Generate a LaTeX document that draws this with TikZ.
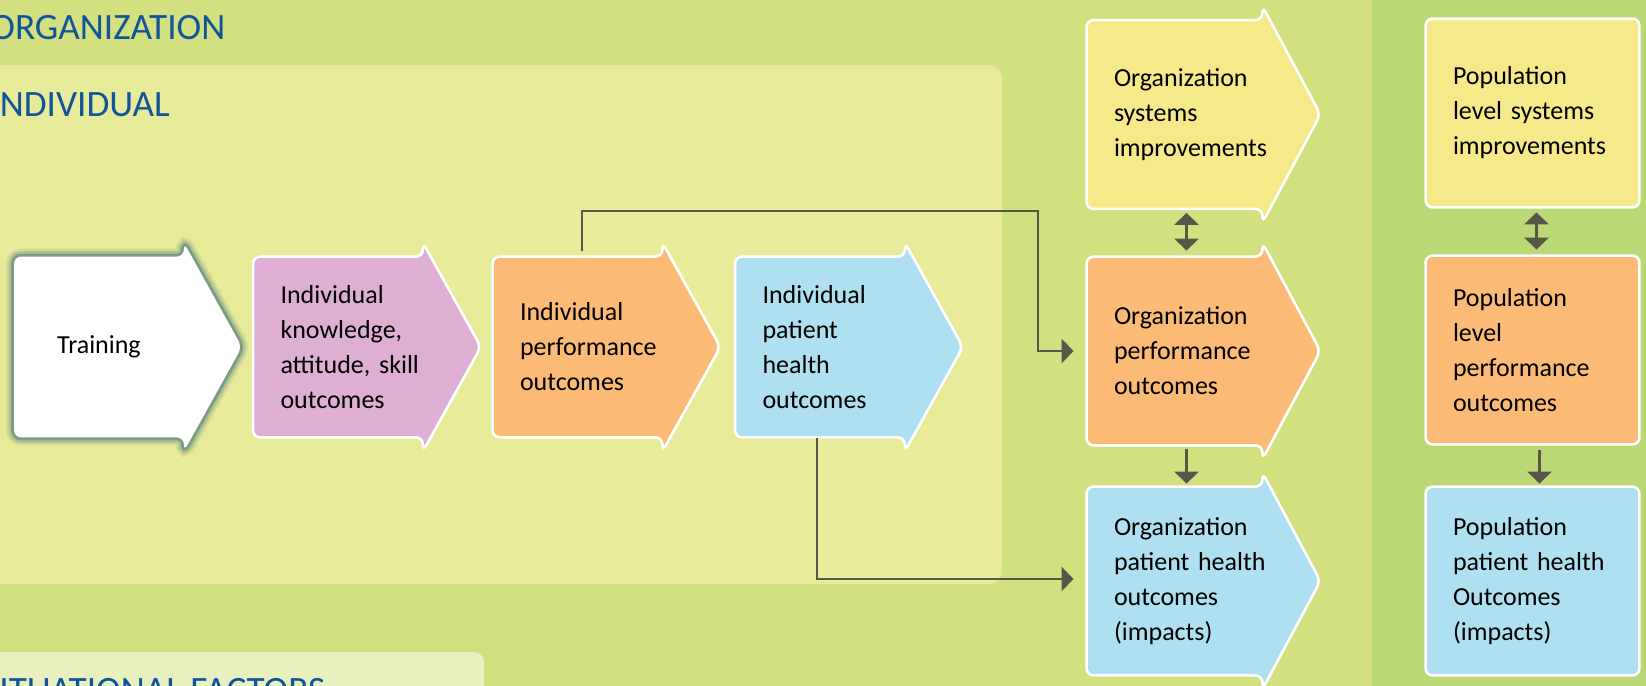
\documentclass[tikz,border=0pt]{standalone}
\usepackage{fontspec}
\setmainfont{Carlito}
\usepackage{tikz}
\usetikzlibrary{arrows.meta,calc,backgrounds}
\hyphenpenalty=10000
\exhyphenpenalty=10000

\definecolor{orgband}{HTML}{D3E080}
\definecolor{popband}{HTML}{BBD876}
\definecolor{indpanel}{HTML}{E8EC9A}
\definecolor{sitpanel}{HTML}{E8F0C0}
\definecolor{titleblue}{HTML}{10559A}
\definecolor{linkgray}{HTML}{575748}
\definecolor{sysyellow}{HTML}{F5E98A}
\definecolor{perforange}{HTML}{FBBA76}
\definecolor{skillpink}{HTML}{DFAFD3}
\definecolor{healthblue}{HTML}{AEE0F1}
\definecolor{glowteal}{HTML}{3E6E76}

\tikzset{
  bandlabel/.style={anchor=base west, inner sep=0, text=titleblue, font=\fontsize{18.6}{22}\selectfont},
  outcome/.style={rectangle, inner sep=0, align=left, text=black, font=\fontsize{13}{17.5}\selectfont},
  rowbox/.style={outcome, minimum width=84.5pt, minimum height=90pt, text width=57.5pt},
  orgbox/.style={outcome, minimum width=87.5pt, minimum height=94pt, text width=60.5pt},
  popbox/.style={outcome, minimum width=106.5pt, minimum height=94pt, text width=79.5pt},
  boxedge/.style={draw=white, line width=1.3pt, rounded corners=3.5pt},
  connector/.style={draw=linkgray, line width=1.4pt},
}

% outline of a box with an arrow head on its right side
\newcommand{\arrowoutline}[1]{(#1.north west) -- (#1.north east) -- ($(#1.north east)+(0,-14)$)
  -- ($(#1.east)+(58,0)$) -- ($(#1.south east)+(0,14)$) -- (#1.south east) -- (#1.south west) -- cycle}

\begin{document}
\begin{tikzpicture}[x=0.5pt,y=-0.5pt,>={Triangle[length=6pt,width=12pt]}]
\useasboundingbox (0,0) rectangle (1646,686);

% bands and panels
\begin{scope}[on background layer]
\fill[orgband] (0,0) rectangle (1372,686);
\fill[popband] (1372,0) rectangle (1646,686);
\fill[indpanel, rounded corners=6.5pt] (-30,65) rectangle (1002,584);
\fill[sitpanel, rounded corners=5pt] (-30,652) rectangle (484,740);
\end{scope}

\node[bandlabel] (orglabel) at (-10,39) {ORGANIZATION};
\node[bandlabel] (indlabel) at (-10,116) {INDIVIDUAL};
\node[bandlabel] (sitlabel) at (-18,702) {SITUATIONAL FACTORS};

% individual row
\node[rowbox, align=center] (training) at (99,347) {Training};
\node[rowbox] (knowledge) at (338,347) {Individual\\knowledge,\\attitude,~skill\\outcomes};
\node[rowbox] (indperf) at (577.5,347) {Individual\\performance\\outcomes};
\node[rowbox] (indpat) at (820,347) {Individual\\patient\\health\\outcomes};

% organization column
\node[orgbox] (orgsys) at (1174.5,114.5) {Organization\\systems\\improvements};
\node[orgbox] (orgperf) at (1174.5,351) {Organization\\performance\\outcomes};
\node[orgbox] (orgpat) at (1174.5,581) {Organization\\patient~health\\outcomes\\(impacts)};

% population column
\node[popbox] (popsys) at (1532.5,113) {Population\\level systems\\improvements};
\node[popbox] (popperf) at (1532.5,350) {Population\\level\\performance\\outcomes};
\node[popbox] (poppat) at (1532.5,581) {Population\\patient health\\Outcomes\\(impacts)};

\begin{scope}[on background layer]
\draw[glowteal, line width=8pt, opacity=0.12, rounded corners=3.5pt] \arrowoutline{training};
\draw[glowteal, line width=5.5pt, opacity=0.22, rounded corners=3.5pt] \arrowoutline{training};
\draw[glowteal, line width=3pt, opacity=0.45, rounded corners=3.5pt] \arrowoutline{training};
\fill[white, rounded corners=3.5pt] \arrowoutline{training};
\draw[boxedge, fill=skillpink] \arrowoutline{knowledge};
\draw[boxedge, fill=perforange] \arrowoutline{indperf};
\draw[boxedge, fill=healthblue] \arrowoutline{indpat};
\draw[boxedge, fill=sysyellow] \arrowoutline{orgsys};
\draw[boxedge, fill=perforange] \arrowoutline{orgperf};
\draw[boxedge, fill=healthblue] \arrowoutline{orgpat};
\draw[boxedge, fill=sysyellow] (popsys.north west) rectangle (popsys.south east);
\draw[boxedge, fill=perforange] (popperf.north west) rectangle (popperf.south east);
\draw[boxedge, fill=healthblue] (poppat.north west) rectangle (poppat.south east);
\end{scope}

% connectors
\coordinate (bendtop) at (1038,211);
\draw[connector, ->] ($(indperf.north)+(4.5,-6)$) |- (bendtop) |- ($(orgperf.west)+(-13,0)$);
\draw[connector, ->] ($(indpat.south)+(-3,1)$) |- ($(orgpat.west)+(-13,-2)$);
\draw[connector, <->] ($(orgsys.south)+(12,4)$) -- ($(orgperf.north)+(12,-6)$);
\draw[connector, ->] ($(orgperf.south)+(12,4)$) -- ($(orgpat.north)+(12,-3)$);
\draw[connector, <->] ($(popsys.south)+(4,5)$) -- ($(popperf.north)+(4,-6)$);
\draw[connector, ->] ($(popperf.south)+(7,6)$) -- ($(poppat.north)+(7,-3)$);
\end{tikzpicture}
\end{document}
